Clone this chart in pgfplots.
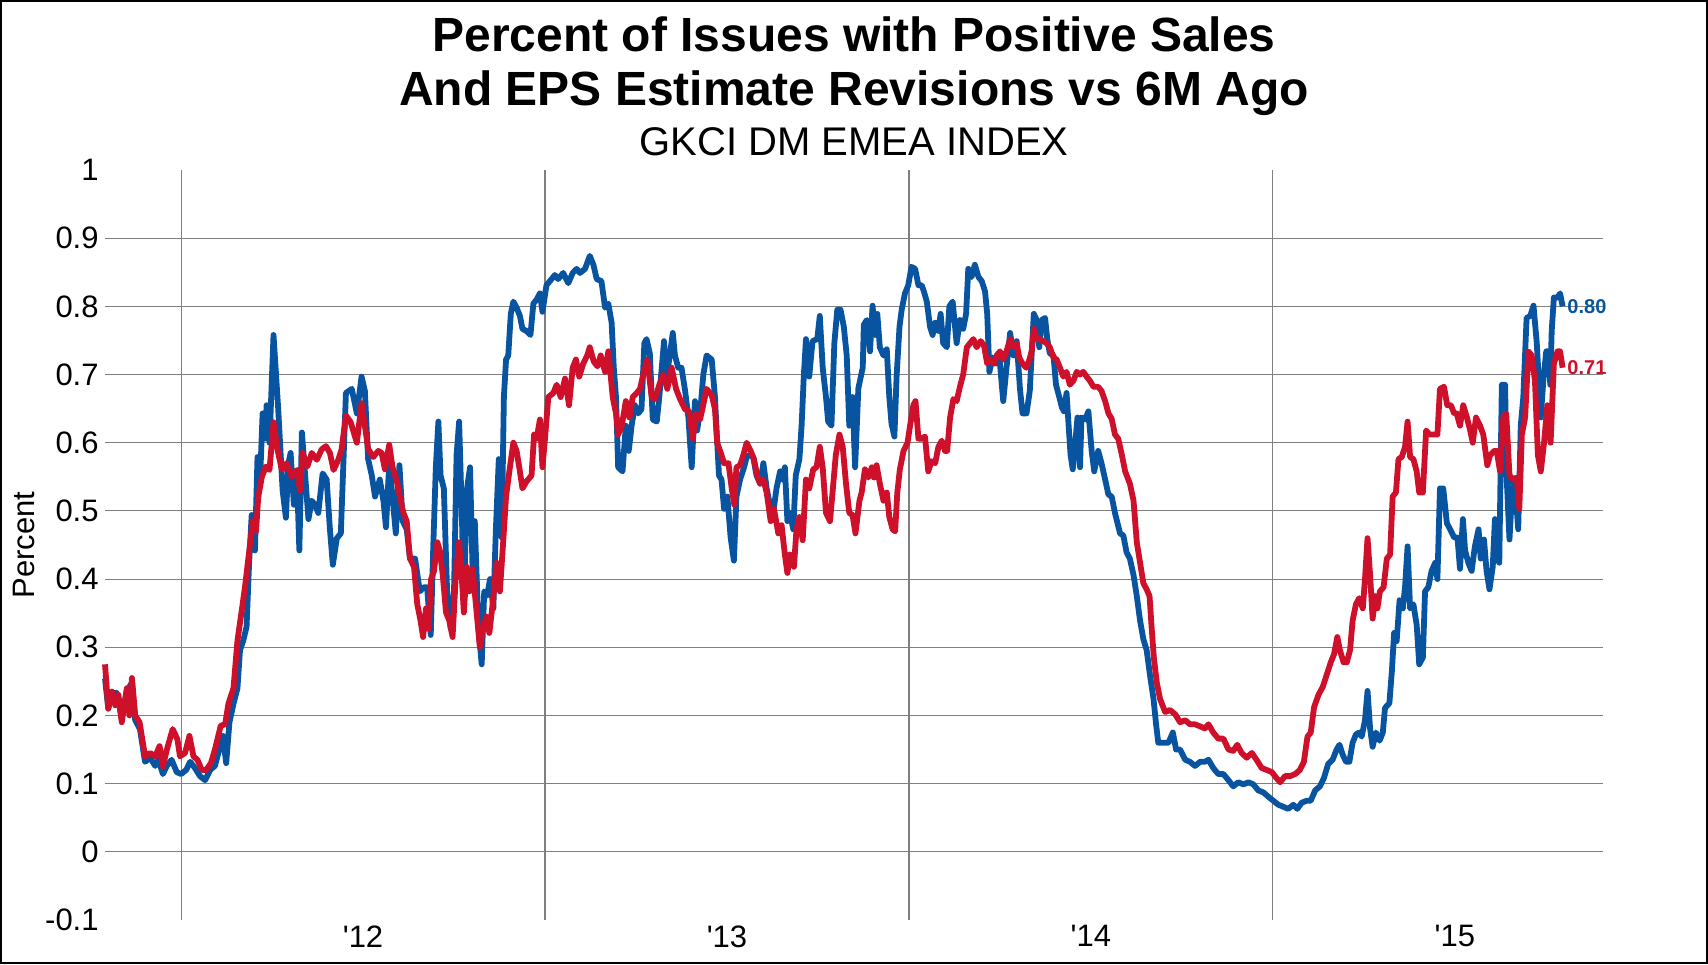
\documentclass[border=0pt]{standalone}
\usepackage{fontspec}
\setmainfont{Liberation Sans}[Ligatures=TeXOff]
\usepackage{pgfplots}
\usepackage{pgfplotstable}
\pgfplotsset{compat=1.18}
\definecolor{sblue}{RGB}{8,84,160}
\definecolor{sred}{RGB}{206,16,42}
\definecolor{gridgray}{RGB}{128,128,128}

\pgfplotstableread{
t v
2011.791 0.275
2011.800 0.210
2011.810 0.235
2011.819 0.215
2011.828 0.230
2011.837 0.190
2011.851 0.240
2011.858 0.200
2011.865 0.255
2011.874 0.200
2011.886 0.190
2011.901 0.140
2011.915 0.145
2011.929 0.140
2011.941 0.155
2011.950 0.125
2011.961 0.150
2011.977 0.180
2011.990 0.165
2011.997 0.140
2012.011 0.145
2012.023 0.170
2012.034 0.140
2012.045 0.135
2012.057 0.120
2012.069 0.120
2012.082 0.130
2012.093 0.150
2012.109 0.185
2012.121 0.187
2012.130 0.217
2012.144 0.240
2012.155 0.310
2012.167 0.355
2012.176 0.390
2012.187 0.440
2012.197 0.485
2012.206 0.470
2012.212 0.520
2012.222 0.550
2012.233 0.565
2012.243 0.560
2012.254 0.630
2012.265 0.590
2012.277 0.560
2012.290 0.570
2012.304 0.550
2012.318 0.560
2012.327 0.530
2012.334 0.585
2012.347 0.565
2012.359 0.585
2012.373 0.575
2012.386 0.590
2012.398 0.595
2012.409 0.585
2012.419 0.560
2012.432 0.575
2012.441 0.590
2012.453 0.640
2012.466 0.630
2012.483 0.600
2012.496 0.658
2012.505 0.625
2012.514 0.591
2012.528 0.579
2012.542 0.588
2012.551 0.585
2012.560 0.561
2012.572 0.597
2012.581 0.564
2012.592 0.546
2012.601 0.521
2012.611 0.497
2012.620 0.485
2012.629 0.430
2012.640 0.418
2012.649 0.363
2012.658 0.339
2012.665 0.315
2012.673 0.357
2012.680 0.327
2012.687 0.400
2012.695 0.412
2012.704 0.454
2012.711 0.442
2012.719 0.406
2012.728 0.351
2012.737 0.339
2012.746 0.315
2012.755 0.406
2012.764 0.454
2012.771 0.406
2012.777 0.351
2012.785 0.418
2012.792 0.382
2012.801 0.415
2012.810 0.363
2012.821 0.300
2012.830 0.327
2012.839 0.345
2012.847 0.321
2012.856 0.363
2012.867 0.424
2012.876 0.382
2012.885 0.454
2012.893 0.521
2012.902 0.558
2012.913 0.600
2012.922 0.588
2012.931 0.558
2012.938 0.533
2012.949 0.543
2012.963 0.552
2012.970 0.612
2012.977 0.606
2012.986 0.634
2012.993 0.564
2013.000 0.606
2013.009 0.667
2013.023 0.673
2013.032 0.685
2013.043 0.667
2013.055 0.694
2013.066 0.655
2013.076 0.710
2013.085 0.722
2013.094 0.697
2013.105 0.716
2013.116 0.728
2013.123 0.740
2013.134 0.719
2013.144 0.712
2013.153 0.728
2013.165 0.704
2013.174 0.734
2013.186 0.667
2013.195 0.643
2013.201 0.612
2013.211 0.625
2013.222 0.661
2013.232 0.637
2013.241 0.667
2013.252 0.673
2013.261 0.679
2013.270 0.700
2013.281 0.722
2013.293 0.667
2013.302 0.664
2013.314 0.685
2013.325 0.700
2013.336 0.679
2013.348 0.710
2013.360 0.679
2013.371 0.664
2013.385 0.649
2013.396 0.646
2013.406 0.606
2013.415 0.643
2013.426 0.634
2013.437 0.661
2013.444 0.679
2013.458 0.670
2013.467 0.649
2013.473 0.600
2013.483 0.585
2013.492 0.570
2013.504 0.570
2013.513 0.533
2013.520 0.509
2013.526 0.564
2013.536 0.567
2013.545 0.582
2013.554 0.600
2013.565 0.588
2013.574 0.576
2013.583 0.552
2013.591 0.540
2013.600 0.546
2013.609 0.527
2013.620 0.485
2013.629 0.503
2013.641 0.467
2013.650 0.479
2013.659 0.436
2013.666 0.409
2013.673 0.436
2013.684 0.418
2013.691 0.473
2013.699 0.491
2013.708 0.457
2013.717 0.546
2013.726 0.533
2013.737 0.561
2013.746 0.564
2013.755 0.594
2013.763 0.564
2013.772 0.497
2013.783 0.485
2013.790 0.527
2013.799 0.582
2013.809 0.612
2013.818 0.594
2013.827 0.540
2013.836 0.497
2013.845 0.494
2013.853 0.467
2013.864 0.515
2013.870 0.527
2013.879 0.561
2013.888 0.549
2013.898 0.564
2013.904 0.549
2013.911 0.567
2013.920 0.540
2013.930 0.515
2013.939 0.527
2013.946 0.491
2013.955 0.473
2013.962 0.470
2013.968 0.527
2013.975 0.561
2013.985 0.588
2013.996 0.600
2014.003 0.625
2014.012 0.655
2014.018 0.661
2014.026 0.606
2014.035 0.606
2014.044 0.609
2014.053 0.558
2014.062 0.573
2014.072 0.570
2014.081 0.594
2014.090 0.603
2014.099 0.588
2014.105 0.588
2014.113 0.637
2014.122 0.664
2014.131 0.661
2014.140 0.682
2014.149 0.700
2014.159 0.740
2014.168 0.746
2014.177 0.752
2014.186 0.740
2014.197 0.749
2014.206 0.743
2014.215 0.716
2014.224 0.722
2014.234 0.716
2014.241 0.728
2014.250 0.734
2014.259 0.722
2014.268 0.734
2014.278 0.752
2014.287 0.740
2014.296 0.746
2014.303 0.725
2014.312 0.716
2014.322 0.710
2014.331 0.722
2014.337 0.734
2014.343 0.767
2014.351 0.752
2014.360 0.752
2014.369 0.749
2014.378 0.746
2014.387 0.740
2014.397 0.725
2014.406 0.722
2014.415 0.710
2014.424 0.697
2014.433 0.704
2014.442 0.685
2014.452 0.691
2014.461 0.704
2014.470 0.700
2014.479 0.704
2014.488 0.697
2014.497 0.691
2014.507 0.682
2014.520 0.682
2014.529 0.676
2014.539 0.661
2014.548 0.643
2014.557 0.635
2014.566 0.612
2014.575 0.606
2014.585 0.582
2014.594 0.558
2014.607 0.540
2014.617 0.515
2014.626 0.454
2014.635 0.424
2014.644 0.394
2014.653 0.385
2014.661 0.375
2014.667 0.327
2014.673 0.284
2014.681 0.248
2014.690 0.224
2014.704 0.205
2014.717 0.208
2014.731 0.202
2014.745 0.190
2014.759 0.193
2014.772 0.187
2014.786 0.187
2014.800 0.184
2014.813 0.181
2014.823 0.187
2014.836 0.175
2014.850 0.166
2014.864 0.166
2014.878 0.150
2014.891 0.148
2014.902 0.157
2014.914 0.145
2014.928 0.138
2014.942 0.145
2014.955 0.135
2014.969 0.123
2014.983 0.120
2014.997 0.117
2015.010 0.108
2015.020 0.102
2015.033 0.111
2015.047 0.111
2015.061 0.114
2015.074 0.120
2015.085 0.132
2015.095 0.169
2015.104 0.175
2015.113 0.212
2015.125 0.230
2015.137 0.242
2015.148 0.260
2015.159 0.278
2015.168 0.290
2015.177 0.315
2015.184 0.296
2015.194 0.278
2015.203 0.278
2015.212 0.296
2015.219 0.339
2015.228 0.363
2015.237 0.372
2015.247 0.357
2015.253 0.400
2015.260 0.460
2015.267 0.406
2015.274 0.342
2015.281 0.375
2015.287 0.357
2015.294 0.382
2015.304 0.388
2015.313 0.430
2015.322 0.436
2015.329 0.521
2015.338 0.527
2015.345 0.576
2015.354 0.579
2015.363 0.594
2015.370 0.631
2015.377 0.579
2015.386 0.576
2015.395 0.558
2015.402 0.527
2015.412 0.527
2015.421 0.618
2015.430 0.612
2015.441 0.612
2015.452 0.612
2015.459 0.679
2015.470 0.682
2015.479 0.655
2015.489 0.655
2015.498 0.643
2015.505 0.643
2015.514 0.625
2015.523 0.655
2015.533 0.637
2015.542 0.618
2015.549 0.600
2015.558 0.637
2015.569 0.625
2015.578 0.612
2015.589 0.567
2015.597 0.582
2015.608 0.588
2015.615 0.588
2015.624 0.558
2015.633 0.637
2015.641 0.643
2015.650 0.552
2015.661 0.546
2015.670 0.549
2015.677 0.503
2015.684 0.612
2015.693 0.637
2015.702 0.734
2015.711 0.728
2015.720 0.691
2015.728 0.582
2015.736 0.558
2015.745 0.600
2015.754 0.655
2015.763 0.600
2015.772 0.716
2015.782 0.734
2015.789 0.734
2015.796 0.710
}\reddata

\pgfplotstableread{
t v
2011.791 0.254
2011.800 0.210
2011.810 0.233
2011.823 0.233
2011.837 0.196
2011.851 0.236
2011.865 0.248
2011.874 0.193
2011.887 0.180
2011.901 0.132
2011.915 0.138
2011.929 0.126
2011.938 0.135
2011.950 0.114
2011.961 0.126
2011.974 0.135
2011.988 0.117
2012.000 0.114
2012.014 0.120
2012.025 0.132
2012.038 0.123
2012.052 0.111
2012.066 0.105
2012.080 0.120
2012.093 0.126
2012.105 0.150
2012.115 0.170
2012.124 0.130
2012.133 0.190
2012.144 0.217
2012.155 0.240
2012.162 0.296
2012.171 0.310
2012.180 0.330
2012.187 0.424
2012.194 0.494
2012.203 0.442
2012.210 0.579
2012.217 0.543
2012.224 0.643
2012.231 0.606
2012.235 0.655
2012.243 0.600
2012.254 0.758
2012.267 0.649
2012.279 0.530
2012.288 0.490
2012.295 0.570
2012.301 0.585
2012.310 0.509
2012.318 0.558
2012.325 0.442
2012.332 0.615
2012.341 0.552
2012.350 0.488
2012.359 0.515
2012.368 0.509
2012.377 0.497
2012.389 0.555
2012.400 0.546
2012.409 0.473
2012.417 0.421
2012.428 0.460
2012.439 0.467
2012.446 0.570
2012.453 0.673
2012.469 0.679
2012.483 0.643
2012.496 0.697
2012.505 0.676
2012.514 0.576
2012.524 0.552
2012.533 0.521
2012.546 0.546
2012.556 0.515
2012.563 0.476
2012.572 0.570
2012.581 0.521
2012.590 0.467
2012.600 0.567
2012.609 0.485
2012.620 0.473
2012.629 0.430
2012.643 0.430
2012.656 0.382
2012.667 0.388
2012.676 0.388
2012.686 0.318
2012.693 0.448
2012.700 0.564
2012.707 0.631
2012.713 0.552
2012.722 0.533
2012.731 0.382
2012.741 0.327
2012.750 0.382
2012.757 0.582
2012.764 0.631
2012.772 0.485
2012.777 0.363
2012.785 0.530
2012.794 0.564
2012.801 0.412
2012.807 0.485
2012.817 0.330
2012.826 0.275
2012.833 0.382
2012.841 0.376
2012.849 0.400
2012.858 0.357
2012.865 0.473
2012.873 0.576
2012.881 0.461
2012.887 0.667
2012.893 0.722
2012.899 0.728
2012.906 0.789
2012.913 0.807
2012.922 0.798
2012.931 0.786
2012.938 0.767
2012.949 0.764
2012.960 0.758
2012.968 0.804
2012.977 0.810
2012.986 0.819
2012.993 0.792
2013.004 0.831
2013.018 0.840
2013.027 0.846
2013.036 0.840
2013.050 0.849
2013.064 0.834
2013.076 0.849
2013.087 0.855
2013.096 0.849
2013.110 0.855
2013.123 0.874
2013.133 0.861
2013.142 0.840
2013.155 0.837
2013.165 0.798
2013.174 0.804
2013.183 0.776
2013.189 0.710
2013.195 0.667
2013.201 0.564
2013.213 0.558
2013.222 0.625
2013.230 0.588
2013.238 0.625
2013.247 0.655
2013.256 0.643
2013.265 0.649
2013.273 0.746
2013.279 0.752
2013.288 0.731
2013.296 0.634
2013.307 0.631
2013.314 0.667
2013.327 0.749
2013.334 0.697
2013.343 0.728
2013.351 0.761
2013.357 0.728
2013.366 0.710
2013.375 0.710
2013.385 0.676
2013.394 0.637
2013.403 0.564
2013.412 0.661
2013.418 0.618
2013.428 0.655
2013.435 0.700
2013.444 0.728
2013.458 0.722
2013.467 0.667
2013.472 0.612
2013.478 0.552
2013.485 0.546
2013.492 0.503
2013.501 0.521
2013.510 0.461
2013.519 0.427
2013.526 0.521
2013.536 0.546
2013.547 0.564
2013.554 0.579
2013.563 0.582
2013.572 0.579
2013.581 0.552
2013.591 0.540
2013.600 0.570
2013.609 0.533
2013.618 0.509
2013.627 0.497
2013.636 0.533
2013.646 0.558
2013.653 0.546
2013.659 0.564
2013.666 0.485
2013.673 0.497
2013.682 0.473
2013.689 0.552
2013.699 0.576
2013.705 0.625
2013.711 0.697
2013.717 0.752
2013.726 0.697
2013.735 0.749
2013.748 0.752
2013.755 0.786
2013.763 0.710
2013.772 0.667
2013.778 0.631
2013.787 0.625
2013.795 0.746
2013.803 0.795
2013.812 0.795
2013.821 0.770
2013.829 0.728
2013.836 0.625
2013.845 0.667
2013.852 0.564
2013.861 0.680
2013.873 0.710
2013.876 0.773
2013.884 0.780
2013.893 0.734
2013.900 0.801
2013.907 0.758
2013.913 0.789
2013.920 0.740
2013.930 0.728
2013.939 0.737
2013.946 0.667
2013.952 0.628
2013.960 0.609
2013.966 0.697
2013.974 0.770
2013.980 0.795
2013.989 0.819
2013.998 0.831
2014.007 0.858
2014.017 0.855
2014.026 0.831
2014.035 0.831
2014.041 0.822
2014.049 0.807
2014.058 0.770
2014.065 0.758
2014.072 0.776
2014.081 0.764
2014.087 0.789
2014.094 0.746
2014.104 0.740
2014.111 0.800
2014.120 0.807
2014.131 0.746
2014.140 0.780
2014.149 0.767
2014.157 0.789
2014.163 0.855
2014.172 0.843
2014.181 0.861
2014.191 0.843
2014.200 0.837
2014.209 0.822
2014.215 0.789
2014.221 0.704
2014.230 0.725
2014.239 0.716
2014.248 0.728
2014.259 0.661
2014.268 0.710
2014.278 0.761
2014.287 0.728
2014.296 0.749
2014.305 0.679
2014.312 0.643
2014.323 0.643
2014.332 0.676
2014.337 0.728
2014.343 0.789
2014.351 0.780
2014.358 0.740
2014.365 0.780
2014.374 0.783
2014.380 0.752
2014.387 0.731
2014.397 0.728
2014.404 0.685
2014.413 0.667
2014.420 0.652
2014.426 0.646
2014.433 0.673
2014.438 0.631
2014.444 0.582
2014.450 0.561
2014.456 0.594
2014.463 0.637
2014.470 0.564
2014.474 0.637
2014.484 0.634
2014.493 0.646
2014.502 0.588
2014.509 0.558
2014.520 0.588
2014.529 0.570
2014.539 0.546
2014.548 0.524
2014.557 0.521
2014.566 0.497
2014.580 0.467
2014.589 0.464
2014.598 0.439
2014.607 0.430
2014.617 0.406
2014.626 0.375
2014.635 0.339
2014.644 0.312
2014.653 0.296
2014.662 0.260
2014.672 0.224
2014.679 0.187
2014.685 0.160
2014.699 0.160
2014.713 0.160
2014.725 0.175
2014.734 0.150
2014.745 0.150
2014.759 0.135
2014.772 0.132
2014.786 0.126
2014.800 0.132
2014.813 0.132
2014.823 0.135
2014.836 0.123
2014.850 0.114
2014.864 0.114
2014.878 0.105
2014.891 0.096
2014.905 0.102
2014.919 0.099
2014.933 0.102
2014.946 0.099
2014.960 0.090
2014.974 0.087
2014.987 0.081
2015.001 0.075
2015.015 0.069
2015.029 0.066
2015.042 0.063
2015.056 0.069
2015.067 0.063
2015.079 0.072
2015.093 0.075
2015.104 0.075
2015.116 0.090
2015.129 0.096
2015.140 0.108
2015.152 0.129
2015.164 0.135
2015.175 0.150
2015.183 0.157
2015.192 0.142
2015.201 0.132
2015.210 0.132
2015.219 0.160
2015.228 0.172
2015.237 0.175
2015.244 0.169
2015.253 0.193
2015.260 0.236
2015.267 0.181
2015.274 0.154
2015.283 0.175
2015.293 0.163
2015.302 0.175
2015.308 0.211
2015.320 0.218
2015.327 0.266
2015.333 0.321
2015.340 0.309
2015.348 0.369
2015.357 0.357
2015.363 0.388
2015.370 0.448
2015.377 0.357
2015.386 0.363
2015.395 0.333
2015.402 0.275
2015.412 0.285
2015.418 0.382
2015.427 0.388
2015.436 0.412
2015.446 0.424
2015.452 0.400
2015.459 0.533
2015.468 0.533
2015.478 0.482
2015.487 0.473
2015.498 0.461
2015.507 0.461
2015.514 0.415
2015.522 0.488
2015.528 0.442
2015.537 0.424
2015.546 0.412
2015.555 0.448
2015.565 0.473
2015.571 0.430
2015.580 0.458
2015.587 0.412
2015.595 0.385
2015.604 0.418
2015.610 0.488
2015.617 0.430
2015.622 0.424
2015.629 0.685
2015.638 0.685
2015.642 0.552
2015.650 0.458
2015.659 0.546
2015.665 0.539
2015.674 0.473
2015.681 0.625
2015.688 0.667
2015.697 0.783
2015.707 0.786
2015.716 0.801
2015.725 0.746
2015.736 0.637
2015.743 0.691
2015.751 0.734
2015.758 0.734
2015.762 0.685
2015.766 0.764
2015.772 0.813
2015.782 0.813
2015.789 0.819
2015.796 0.800
}\bluedata

\begin{document}
\begin{tikzpicture}
\useasboundingbox (-52.5pt,-22pt) rectangle (801.5pt,460pt);
\begin{axis}[
  at={(0pt,0pt)}, anchor=south west,
  scale only axis, width=749pt, height=375pt,
  xmin=2011.791, xmax=2015.907, ymin=-0.1, ymax=1,
  clip=false,
  axis line style={draw=none},
  major tick length=0pt,
  xmajorgrids, ymajorgrids,
  major grid style={gridgray, line width=0.55pt},
  xtick={2012,2013,2014,2015}, xticklabels={},
  extra x ticks={2012.5,2013.5,2014.5,2015.5},
  extra x tick labels={'12,'13,'14,'15},
  extra x tick style={grid=none},
  ytick={0,0.1,0.2,0.3,0.4,0.5,0.6,0.7,0.8,0.9},
  yticklabels={0,0.1,0.2,0.3,0.4,0.5,0.6,0.7,0.8,0.9},
  extra y ticks={-0.1,1},
  extra y tick labels={-0.1,1},
  extra y tick style={grid=none},
  ticklabel style={font=\fontsize{15.5}{18}\selectfont, text=black},
  yticklabel style={anchor=east, inner sep=0pt, xshift=-3pt},
  xticklabel style={anchor=north, inner sep=0pt, yshift=-2.5pt},
]
\addplot[sblue, line width=2.9pt, line join=round] table[x=t, y=v] {\bluedata}
  node[pos=1, anchor=west, inner sep=1pt, font=\bfseries\fontsize{10}{12}\selectfont, text=sblue] {0.80};
\addplot[sred, line width=2.9pt, line join=round] table[x=t, y=v] {\reddata}
  node[pos=1, anchor=west, inner sep=1pt, font=\bfseries\fontsize{10}{12}\selectfont, text=sred] {0.71};
\end{axis}
\node[anchor=base, font=\bfseries\fontsize{24}{28}\selectfont] at (374.5pt,434pt) {Percent of Issues with Positive Sales};
\node[anchor=base, font=\bfseries\fontsize{24}{28}\selectfont] at (374.5pt,407pt) {And EPS Estimate Revisions vs 6M Ago};
\node[anchor=base, font=\fontsize{20}{24}\selectfont] at (374.5pt,382pt) {GKCI DM EMEA INDEX};
\node[rotate=90, font=\fontsize{15.5}{18}\selectfont] at (-40.5pt,187.5pt) {Percent};
\draw[black, line width=1.2pt] (-51.9pt,-21.4pt) rectangle (800.9pt,459.4pt);
\end{tikzpicture}
\end{document}
